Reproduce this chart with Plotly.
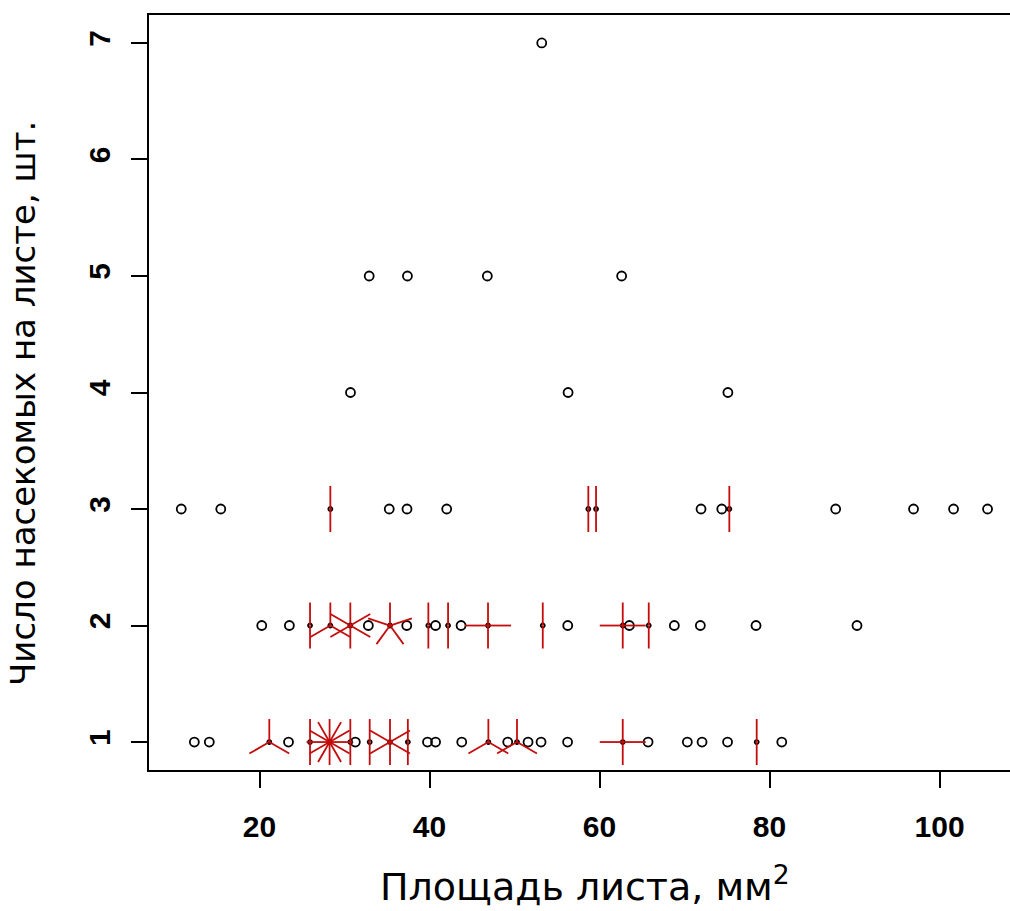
import math
import plotly.graph_objects as go

# ---- data: leaf area (mm^2) of distinct points per insect count, with multiplicity ----
area_y1 = [12.33, 14.09, 21.15, 23.41, 25.94, 28.24, 30.68, 31.27, 32.96, 35.35, 37.45,
           39.76, 40.71, 43.79, 46.92, 49.20, 50.29, 51.59, 53.12, 56.24, 62.73, 65.71,
           70.33, 72.06, 75.06, 78.49, 81.44]
count_y1 = [1, 1, 3, 1, 2, 12, 2, 1, 2, 6, 2,
            1, 1, 1, 3, 1, 3, 1, 1, 1, 4, 1,
            1, 1, 1, 2, 1]

area_y2 = [20.26, 23.51, 25.94, 28.33, 30.68, 32.80, 35.35, 37.32, 39.86, 40.71, 42.18,
           43.71, 46.88, 53.32, 56.26, 62.73, 63.51, 65.79, 68.80, 71.86, 78.41, 90.29]
count_y2 = [1, 1, 2, 3, 6, 1, 5, 1, 2, 1, 2,
            1, 4, 2, 1, 4, 1, 2, 1, 1, 1, 1]

area_y3 = [10.79, 15.44, 28.33, 35.26, 37.35, 42.02, 58.68, 59.59, 71.94, 74.38, 75.27,
           87.78, 96.94, 101.65, 105.65]
count_y3 = [1, 1, 2, 1, 1, 1, 2, 2, 1, 1, 2,
            1, 1, 1, 1]

area_y4 = [30.7, 56.3, 75.1]
count_y4 = [1, 1, 1]

area_y5 = [32.9, 37.4, 46.8, 62.6]
count_y5 = [1, 1, 1, 1]

area_y7 = [53.2]
count_y7 = [1]

levels = [1, 2, 3, 4, 5, 7]
areas = [area_y1, area_y2, area_y3, area_y4, area_y5, area_y7]
counts = [count_y1, count_y2, count_y3, count_y4, count_y5, count_y7]

x_ticks = [20, 40, 60, 80, 100]
y_ticks = [1, 2, 3, 4, 5, 6, 7]

x_title = "Площадь листа, мм<sup>2</sup>"
y_title = "Число насекомых на листе, шт."

# ---- layout geometry ----
W, H = 1010, 911
ML, MR, MT, MB = 149, 0, 15, 141
plot_w = W - ML - MR
plot_h = H - MT - MB

all_x = [v for a in areas for v in a]
span = max(all_x) - min(all_x)
x_lo = min(all_x) - 0.04 * span
px_per_x = 8.5
x_hi = x_lo + plot_w / px_per_x
y_lo, y_hi = 1 - 0.04 * 6, 7 + 0.04 * 6
px_per_y = plot_h / (y_hi - y_lo)

PETAL_PX = 23
dxp = PETAL_PX / px_per_x
dyp = PETAL_PX / px_per_y

sx, sy, mx, my, px, py = [], [], [], [], [], []
for lvl, a, c in zip(levels, areas, counts):
    for xv, n in zip(a, c):
        if n == 1:
            sx.append(xv); sy.append(lvl)
        else:
            mx.append(xv); my.append(lvl)
            for k in range(n):
                ang = math.pi / 2 + 2 * math.pi * k / n
                px += [xv, xv + dxp * math.cos(ang), None]
                py += [lvl, lvl + dyp * math.sin(ang), None]

fig = go.Figure()
fig.add_trace(go.Scatter(x=sx, y=sy, mode="markers",
                         marker=dict(symbol="circle-open", size=9, color="black",
                                     line=dict(width=1.8, color="black")),
                         showlegend=False, hoverinfo="skip"))
fig.add_trace(go.Scatter(x=mx, y=my, mode="markers",
                         marker=dict(symbol="circle-open", size=4, color="black",
                                     line=dict(width=1.8, color="black")),
                         showlegend=False, hoverinfo="skip"))
fig.add_trace(go.Scatter(x=px, y=py, mode="lines",
                         line=dict(color="#c40c0c", width=1.8),
                         showlegend=False, hoverinfo="skip"))

tick_font = dict(family="Liberation Sans, Arial, sans-serif", size=30, color="black",
                 weight="bold")

fig.update_layout(
    width=W, height=H,
    margin=dict(l=ML, r=MR, t=MT, b=MB, autoexpand=False),
    paper_bgcolor="white", plot_bgcolor="white",
    xaxis=dict(range=[x_lo, x_hi], tickvals=x_ticks, ticks="outside", ticklen=16,
               tickwidth=1.5, tickcolor="black", showgrid=False, zeroline=False,
               showline=True, linecolor="black", linewidth=2, mirror=True,
               tickfont=tick_font, ticklabelstandoff=13),
    yaxis=dict(range=[y_lo, y_hi], tickvals=y_ticks, ticks="outside", ticklen=16,
               tickwidth=1.5, tickcolor="black", showgrid=False, zeroline=False,
               showline=True, linecolor="black", linewidth=2, mirror=False,
               tickfont=tick_font, tickangle=-90, ticklabelstandoff=9),
    annotations=[
        dict(text=x_title, xref="paper", yref="paper",
             x=(585 - ML) / plot_w, y=-(884 - (MT + plot_h)) / plot_h,
             xanchor="center", yanchor="middle", showarrow=False,
             font=dict(family="DejaVu Sans", size=38, color="black")),
        dict(text=y_title, xref="paper", yref="paper",
             x=(23 - ML) / plot_w, y=((MT + plot_h) - 404) / plot_h,
             xanchor="center", yanchor="middle", showarrow=False, textangle=-90,
             font=dict(family="DejaVu Sans", size=34, color="black")),
    ],
)

fig.write_html("out.html", config={"displayModeBar": False},
               post_script="document.body.style.margin='0';")
